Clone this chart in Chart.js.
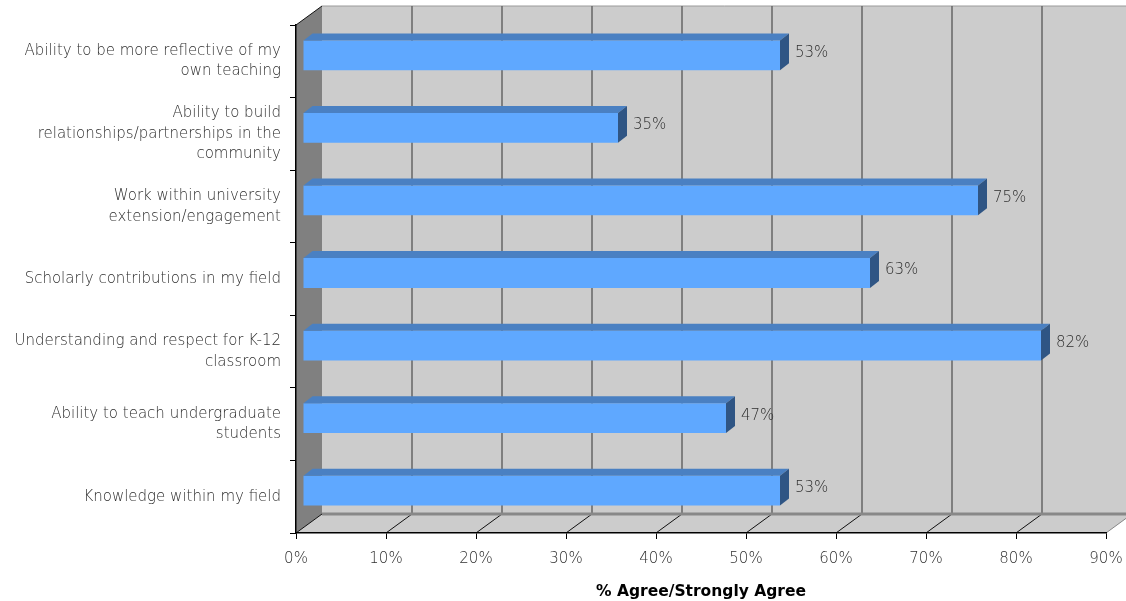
<!DOCTYPE html>
<html>
<head>
<meta charset="utf-8">
<script src="https://cdn.jsdelivr.net/npm/chart.js@4/dist/chart.umd.min.js"></script>
<style>
  html, body { margin: 0; padding: 0; background: #fff; }
  #wrap { width: 1126px; height: 601px; position: relative; }
</style>
</head>
<body>
<div id="wrap"><canvas id="chart"></canvas></div>
<script>
const categories = [
  ["Ability to be more reflective of my", "own teaching"],
  ["Ability to build", "relationships/partnerships in the", "community"],
  ["Work within university", "extension/engagement"],
  "Scholarly contributions in my field",
  ["Understanding and respect for K-12", "classroom"],
  ["Ability to teach undergraduate", "students"],
  "Knowledge within my field"
];
const agreePct = [53, 35, 75, 63, 82, 47, 53];
const xTicks = [0, 10, 20, 30, 40, 50, 60, 70, 80, 90];

// 3d look: wall depth and bar offset (pixels)
const WALL_DX = 26, WALL_DY = 19;
const BAR_DX = 7, BAR_DY = -6, BAR_BX = 9, BAR_BY = 7;
const FONT = "'DejaVu Sans', Verdana, sans-serif";
const TEXT = "#2e2e2e";

function poly(ctx, pts, fill) {
  ctx.beginPath();
  ctx.moveTo(pts[0][0], pts[0][1]);
  for (let i = 1; i < pts.length; i++) ctx.lineTo(pts[i][0], pts[i][1]);
  ctx.closePath();
  ctx.fillStyle = fill;
  ctx.fill();
}
function line(ctx, x1, y1, x2, y2, color, w) {
  ctx.beginPath();
  ctx.moveTo(x1, y1);
  ctx.lineTo(x2, y2);
  ctx.strokeStyle = color;
  ctx.lineWidth = w;
  ctx.stroke();
}

const walls3d = {
  id: "walls3d",
  beforeDraw(chart) {
    const { ctx, chartArea: a, scales: { x } } = chart;
    ctx.save();
    // back wall
    ctx.fillStyle = "#cccccc";
    ctx.fillRect(a.left + WALL_DX, a.top - WALL_DY, a.right - a.left, a.bottom - a.top);
    // floor
    poly(ctx, [[a.left, a.bottom], [a.right, a.bottom], [a.right + WALL_DX, a.bottom - WALL_DY], [a.left + WALL_DX, a.bottom - WALL_DY]], "#cccccc");
    // left wall
    poly(ctx, [[a.left, a.top], [a.left + WALL_DX, a.top - WALL_DY], [a.left + WALL_DX, a.bottom - WALL_DY], [a.left, a.bottom]], "#808080");
    line(ctx, a.left + WALL_DX, a.top - WALL_DY, a.right + WALL_DX, a.top - WALL_DY, "#9a9a9a", 1);
    xTicks.forEach(v => {
      const px = x.getPixelForValue(v);
      if (v > 0) line(ctx, px + WALL_DX, a.top - WALL_DY, px + WALL_DX, a.bottom - WALL_DY, "#666666", 1.5);
      line(ctx, px, a.bottom, px + WALL_DX, a.bottom - WALL_DY, v === 90 ? "#888888" : "#111111", 1);
    });
    line(ctx, a.left + WALL_DX, a.bottom - WALL_DY, a.right + WALL_DX, a.bottom - WALL_DY, "#888888", 3);
    line(ctx, a.left, a.top, a.left + WALL_DX, a.top - WALL_DY, "#111111", 1);
    ctx.restore();
  },
  beforeDatasetsDraw(chart) {
    chart.ctx.save();
    chart.ctx.translate(BAR_DX, BAR_DY);
  },
  afterDatasetsDraw(chart) {
    const ctx = chart.ctx;
    ctx.restore();
    const meta = chart.getDatasetMeta(0);
    ctx.save();
    meta.data.forEach((el, i) => {
      const p = el.getProps(["x", "y", "base", "height"], true);
      const top = p.y - p.height / 2 + BAR_DY;
      const bot = p.y + p.height / 2 + BAR_DY;
      const l = p.base + BAR_DX, r = p.x + BAR_DX;
      poly(ctx, [[l, top], [r, top], [r + BAR_BX, top - BAR_BY], [l + BAR_BX, top - BAR_BY]], "#4a80c2");
      poly(ctx, [[r, top], [r + BAR_BX, top - BAR_BY], [r + BAR_BX, bot - BAR_BY], [r, bot]], "#2f5584");
      ctx.fillStyle = TEXT;
      ctx.font = "300 15px " + FONT;
      ctx.textAlign = "left";
      ctx.textBaseline = "middle";
      ctx.fillText(agreePct[i] + "%", r + BAR_BX + 6, p.y + BAR_DY - BAR_BY / 2 + 1);
    });
    ctx.restore();
  }
};

Chart.defaults.font.family = FONT;
Chart.defaults.font.size = 15;
Chart.defaults.font.weight = 300;
Chart.defaults.color = TEXT;

new Chart(document.getElementById("chart"), {
  type: "bar",
  data: {
    labels: categories,
    datasets: [{
      data: agreePct,
      backgroundColor: "#5fa8ff",
      borderWidth: 0,
      barPercentage: 0.41,
      categoryPercentage: 1,
      clip: false
    }]
  },
  options: {
    indexAxis: "y",
    responsive: true,
    maintainAspectRatio: false,
    animation: false,
    layout: { padding: { top: 25, right: 20, bottom: 0, left: 0 } },
    plugins: { legend: { display: false }, tooltip: { enabled: false } },
    scales: {
      x: {
        min: 0,
        max: 90,
        ticks: { stepSize: 10, padding: 11, callback: v => v + "%" },
        grid: { drawOnChartArea: false, tickLength: 6, tickColor: "#000" },
        border: { color: "#000", width: 1.5 },
        title: { display: true, text: "% Agree/Strongly Agree", color: "#000", font: { size: 15.5, weight: "bold" }, padding: { top: 4, bottom: 0 } },
        afterFit: s => { s.height = 68; s.paddingLeft = 0; s.paddingRight = 0; }
      },
      y: {
        ticks: { padding: 9, font: { lineHeight: 1.37 } },
        grid: { drawOnChartArea: false, tickLength: 6, tickColor: "#000" },
        border: { color: "#000", width: 1.5 },
        afterFit: s => { s.width = 296; }
      }
    }
  },
  plugins: [walls3d]
});
</script>
</body>
</html>
